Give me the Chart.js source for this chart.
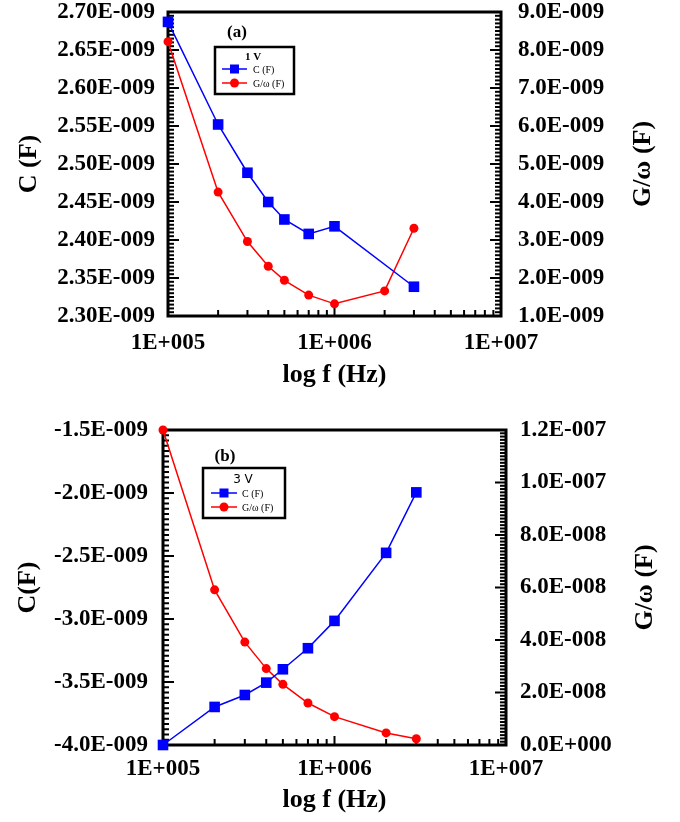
<!DOCTYPE html>
<html>
<head>
<meta charset="utf-8">
<script src="https://cdn.jsdelivr.net/npm/chart.js@4.4.1/dist/chart.umd.min.js"></script>
<style>
  html, body { margin: 0; padding: 0; background: #fff; }
  .panel { position: absolute; left: 0; width: 680px; }
</style>
</head>
<body>
<div class="panel" style="top:0;height:405px"><canvas id="chartA"></canvas></div>
<div class="panel" style="top:405px;height:417px"><canvas id="chartB"></canvas></div>
<script>
// Frequencies (Hz) and measured values
const FREQ_A_C = [1e5, 2e5, 3e5, 4e5, 5e5, 7e5, 1e6, 3e6];
const CAP_A    = [2.687e-9, 2.552e-9, 2.4885e-9, 2.450e-9, 2.427e-9, 2.408e-9, 2.418e-9, 2.3385e-9];
const FREQ_A_G = [1e5, 2e5, 3e5, 4e5, 5e5, 7e5, 1e6, 2e6, 3e6];
const GW_A     = [8.22e-9, 4.26e-9, 2.96e-9, 2.31e-9, 1.94e-9, 1.55e-9, 1.32e-9, 1.66e-9, 3.31e-9];

const FREQ_B = [1e5, 2e5, 3e5, 4e5, 5e5, 7e5, 1e6, 2e6, 3e6];
const CAP_B  = [-4.0e-9, -3.698e-9, -3.603e-9, -3.505e-9, -3.399e-9, -3.232e-9, -3.015e-9, -2.475e-9, -1.995e-9];
const GW_B   = [1.2e-7, 5.91e-8, 3.92e-8, 2.91e-8, 2.31e-8, 1.60e-8, 1.08e-8, 0.46e-8, 0.24e-8];

// Axis ticks and their labels
const X_TICKS  = [1e5, 1e6, 1e7];
const X_LABELS = ['1E+005', '1E+006', '1E+007'];

const A_LEFT_TICKS  = [2.30e-9, 2.35e-9, 2.40e-9, 2.45e-9, 2.50e-9, 2.55e-9, 2.60e-9, 2.65e-9, 2.70e-9];
const A_LEFT_LABELS = ['2.30E-009', '2.35E-009', '2.40E-009', '2.45E-009', '2.50E-009', '2.55E-009', '2.60E-009', '2.65E-009', '2.70E-009'];
const A_RIGHT_TICKS  = [1e-9, 2e-9, 3e-9, 4e-9, 5e-9, 6e-9, 7e-9, 8e-9, 9e-9];
const A_RIGHT_LABELS = ['1.0E-009', '2.0E-009', '3.0E-009', '4.0E-009', '5.0E-009', '6.0E-009', '7.0E-009', '8.0E-009', '9.0E-009'];

const B_LEFT_TICKS  = [-4.0e-9, -3.5e-9, -3.0e-9, -2.5e-9, -2.0e-9, -1.5e-9];
const B_LEFT_LABELS = ['-4.0E-009', '-3.5E-009', '-3.0E-009', '-2.5E-009', '-2.0E-009', '-1.5E-009'];
const B_RIGHT_TICKS  = [0, 2e-8, 4e-8, 6e-8, 8e-8, 1.0e-7, 1.2e-7];
const B_RIGHT_LABELS = ['0.0E+000', '2.0E-008', '4.0E-008', '6.0E-008', '8.0E-008', '1.0E-007', '1.2E-007'];

const SERIF = '"Liberation Serif", "Times New Roman", serif';
const BLUE = '#0000ff';
const RED = '#ff0000';

const pairs = (xs, ys) => xs.map((x, i) => ({ x: x, y: ys[i] }));

// Thick frame plus inward major/minor tick marks, and the right-hand axis title
const frameTicks = {
  id: 'frameTicks',
  beforeDatasetsDraw(chart, args, opts) {
    const { ctx, chartArea: a, scales } = chart;
    ctx.save();
    ctx.strokeStyle = '#000';
    ctx.lineWidth = 2;
    const line = (x1, y1, x2, y2) => { ctx.beginPath(); ctx.moveTo(x1, y1); ctx.lineTo(x2, y2); ctx.stroke(); };

    const vertical = (scale, sub, side) => {
      const t = scale.ticks.map(k => k.value);
      for (let i = 0; i < t.length; i++) {
        const steps = i < t.length - 1 ? sub : 1;
        for (let k = 0; k < steps; k++) {
          const v = i < t.length - 1 ? t[i] + (t[i + 1] - t[i]) * k / sub : t[i];
          const p = scale.getPixelForValue(v);
          const len = k === 0 ? 11 : 6;
          if (side === 'left') line(a.left, p, a.left + len, p);
          else line(a.right, p, a.right - len, p);
        }
      }
    };
    vertical(scales.y, opts.leftSub, 'left');
    vertical(scales.y2, opts.rightSub, 'right');

    const xs = scales.x;
    for (let d = 5; d <= 6; d++) {
      for (let m = 1; m <= 9; m++) {
        const p = xs.getPixelForValue(m * Math.pow(10, d));
        line(p, a.bottom, p, a.bottom - (m === 1 ? 9 : 6));
      }
    }
    const pEnd = xs.getPixelForValue(1e7);
    line(pEnd, a.bottom, pEnd, a.bottom - 9);

    ctx.lineWidth = 3;
    ctx.strokeRect(a.left, a.top, a.width, a.height);

    // right axis title, reading upward
    const r = scales.y2;
    ctx.translate(r.right - opts.rightTitleInset, (a.top + a.bottom) / 2);
    ctx.rotate(-Math.PI / 2);
    ctx.fillStyle = '#000';
    ctx.font = 'bold 26px ' + SERIF;
    ctx.textAlign = 'center';
    ctx.textBaseline = 'middle';
    ctx.fillText(opts.rightTitle, 0, 0);
    ctx.restore();
  }
};

// Panel letter and the boxed key inside the plot
const keyBox = {
  id: 'keyBox',
  afterDraw(chart, args, o) {
    const { ctx, chartArea: a } = chart;
    ctx.save();
    ctx.fillStyle = '#000';
    ctx.textBaseline = 'middle';
    ctx.textAlign = 'center';
    ctx.font = 'bold 17px ' + SERIF;
    ctx.fillText(o.panel, a.left + o.panelX, a.top + o.panelY);

    const bx = a.left + o.x, by = a.top + o.y;
    ctx.fillStyle = '#fff';
    ctx.fillRect(bx, by, o.w, o.h);
    ctx.strokeStyle = '#000';
    ctx.lineWidth = 2.5;
    ctx.strokeRect(bx, by, o.w, o.h);

    ctx.fillStyle = '#000';
    ctx.font = o.headFont;
    ctx.fillText(o.head, bx + o.headX, by + o.headY);

    const rows = [
      { color: BLUE, shape: 'rect', text: 'C (F)' },
      { color: RED, shape: 'circle', text: 'G/\u03c9 (F)' }
    ];
    rows.forEach((r, i) => {
      const y = by + o.rowY[i];
      ctx.strokeStyle = r.color;
      ctx.lineWidth = 1.5;
      ctx.beginPath();
      ctx.moveTo(bx + o.lineX0, y);
      ctx.lineTo(bx + o.lineX1, y);
      ctx.stroke();
      ctx.fillStyle = r.color;
      const cx = (o.lineX0 + o.lineX1) / 2 + bx;
      if (r.shape === 'rect') ctx.fillRect(cx - 4.5, y - 4.5, 9, 9);
      else { ctx.beginPath(); ctx.arc(cx, y, 4.5, 0, Math.PI * 2); ctx.fill(); }
      ctx.fillStyle = '#000';
      ctx.textAlign = 'left';
      ctx.font = '10px ' + SERIF;
      ctx.fillText(r.text, bx + o.textX, y + 1);
    });
    ctx.restore();
  }
};

const tickFont = { family: SERIF, size: 23, weight: 'bold', lineHeight: 1 };
const titleFont = { family: SERIF, size: 26, weight: 'bold' };

function yAxis(position, ticks, labels, width, pad, title, titlePad) {
  return {
    type: 'linear',
    position: position,
    min: ticks[0],
    max: ticks[ticks.length - 1],
    grid: { display: false, drawTicks: false },
    border: { display: false },
    afterBuildTicks: s => { s.ticks = ticks.map(v => ({ value: v })); },
    afterFit: s => { s.width = width; s.paddingTop = 0; s.paddingBottom = 0; },
    ticks: { padding: pad, color: '#000', font: tickFont, autoSkip: false, callback: (v, i) => labels[i] },
    title: { display: !!title, text: title || '', color: '#000', font: titleFont, padding: { top: titlePad, bottom: 0 } }
  };
}

function xAxis(height, pad, titlePad) {
  return {
    type: 'logarithmic',
    position: 'bottom',
    min: 1e5,
    max: 1e7,
    grid: { display: false, drawTicks: false },
    border: { display: false },
    afterBuildTicks: s => { s.ticks = X_TICKS.map(v => ({ value: v })); },
    afterFit: s => { s.height = height; s.paddingLeft = 0; s.paddingRight = 0; },
    ticks: { padding: pad, color: '#000', font: tickFont, autoSkip: false, maxRotation: 0, callback: (v, i) => X_LABELS[i] },
    title: { display: true, text: 'log f (Hz)', color: '#000', font: titleFont, padding: { top: 0, bottom: titlePad } }
  };
}

function series(label, data, color, shape, radius, axis) {
  return {
    label: label,
    data: data,
    yAxisID: axis,
    borderColor: color,
    backgroundColor: color,
    borderWidth: 1.5,
    pointStyle: shape,
    pointRadius: radius,
    pointHoverRadius: radius,
    pointBorderWidth: 0,
    tension: 0,
    clip: false
  };
}

const common = {
  responsive: true,
  maintainAspectRatio: false,
  animation: false,
  events: []
};

new Chart(document.getElementById('chartA'), {
  type: 'line',
  data: {
    datasets: [
      series('C (F)', pairs(FREQ_A_C, CAP_A), BLUE, 'rect', 7.5, 'y'),
      series('G/\u03c9 (F)', pairs(FREQ_A_G, GW_A), RED, 'circle', 4.5, 'y2')
    ]
  },
  options: Object.assign({}, common, {
    layout: { padding: { top: 12, left: 0, right: 0, bottom: 0 } },
    scales: {
      x: xAxis(89, 16, 14),
      y: yAxis('left', A_LEFT_TICKS, A_LEFT_LABELS, 168, 13, 'C (F)', 14),
      y2: yAxis('right', A_RIGHT_TICKS, A_RIGHT_LABELS, 179, 17, null, 0)
    },
    plugins: {
      legend: { display: false },
      tooltip: { enabled: false },
      frameTicks: { leftSub: 10, rightSub: 10, rightTitle: 'G/\u03c9 (F)', rightTitleInset: 37 },
      keyBox: {
        panel: '(a)', panelX: 69, panelY: 21,
        x: 47, y: 35, w: 79, h: 47,
        head: '1 V', headFont: 'bold 11px ' + SERIF, headX: 38, headY: 10,
        rowY: [22, 36], lineX0: 7, lineX1: 32, textX: 38
      }
    }
  }),
  plugins: [frameTicks, keyBox]
});

new Chart(document.getElementById('chartB'), {
  type: 'line',
  data: {
    datasets: [
      series('C (F)', pairs(FREQ_B, CAP_B), BLUE, 'rect', 7.5, 'y'),
      series('G/\u03c9 (F)', pairs(FREQ_B, GW_B), RED, 'circle', 4.5, 'y2')
    ]
  },
  options: Object.assign({}, common, {
    layout: { padding: { top: 25, left: 0, right: 0, bottom: 0 } },
    scales: {
      x: xAxis(77, 13, 6),
      y: yAxis('left', B_LEFT_TICKS, B_LEFT_LABELS, 163, 15, 'C(F)', 13),
      y2: yAxis('right', B_RIGHT_TICKS, B_RIGHT_LABELS, 174, 14, null, 0)
    },
    plugins: {
      legend: { display: false },
      tooltip: { enabled: false },
      frameTicks: { leftSub: 12, rightSub: 16, rightTitle: 'G/\u03c9 (F)', rightTitleInset: 35 },
      keyBox: {
        panel: '(b)', panelX: 62, panelY: 27,
        x: 40, y: 38, w: 82, h: 50,
        head: '3 V', headFont: '12px "DejaVu Sans", sans-serif', headX: 40, headY: 12,
        rowY: [25, 39], lineX0: 8, lineX1: 34, textX: 39
      }
    }
  }),
  plugins: [frameTicks, keyBox]
});
</script>
</body>
</html>
